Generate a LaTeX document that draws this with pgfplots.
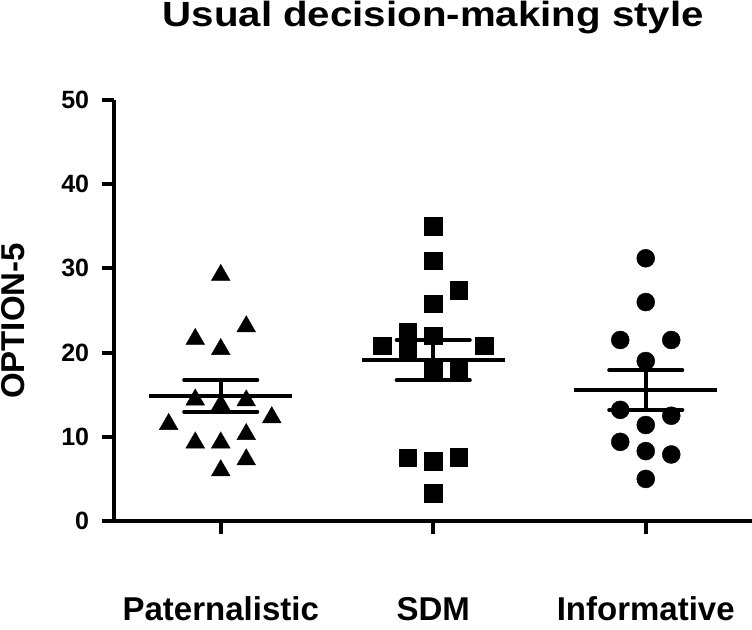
\documentclass[border=0pt]{standalone}
\usepackage{pgfplots}
\pgfplotsset{compat=1.18}
\usepackage{fontspec}
\setmainfont{Liberation Sans}
\usepackage{graphicx}
\begin{document}
\begin{tikzpicture}
\begin{axis}[
  scale only axis, width=637.5pt, height=421pt,
  xmin=-0.5, xmax=2.5, ymin=0, ymax=50,
  axis x line=bottom, axis y line=left,
  axis line style={-, line width=4pt, black},
  xtick={0,1,2}, xticklabels={,,},
  ytick={0,10,20,30,40,50},
  tick align=outside, major tick length=12.8pt,
  tick style={line width=4pt, black},
  /pgf/number format/assume math mode=true,
  yticklabel style={font={\fontsize{25pt}{25pt}\selectfont\bfseries}, anchor=east, inner sep=0pt, xshift=-12.4pt},
  clip=false,
]
% Paternalistic
\addplot[only marks, mark=triangle*, mark size=10.8pt, black] coordinates {
(0,29.2)(0.12,23.1)(-0.12,21.6)(0,20.4)(-0.12,14.4)(0.12,14.3)(0,13.8)(0.24,12.3)(-0.245,11.5)(-0.12,9.3)(0,9.3)(0.12,10.3)(0.12,7.3)(0,6.0)};
% SDM
\addplot[only marks, mark=square*, mark size=8.7pt, black] coordinates {
(1,35.0)(1,30.9)(1.12,27.4)(1,25.8)(0.88,22.5)(1,22.0)(0.76,20.8)(1.24,20.8)(0.88,20.4)(1,17.9)(1.12,18.1)(0.88,7.5)(1,7.1)(1.12,7.6)(1,3.3)};
% Informative
\addplot[only marks, mark=*, mark size=9pt, black] coordinates {
(2,31.2)(2,26.0)(1.88,21.5)(2.12,21.5)(2,19.0)(1.88,13.2)(2.12,12.5)(2,11.4)(1.88,9.4)(2,8.3)(2.12,7.9)(2,5.0)};
% means
\addplot[line width=4.5pt, black] coordinates {(-0.337,14.85)(0.337,14.85)};
\addplot[line width=4.5pt, black] coordinates {(0.663,19.13)(1.337,19.13)};
\addplot[line width=4.5pt, black] coordinates {(1.663,15.55)(2.337,15.55)};
% SEM
\addplot[line width=4pt, black, line cap=round] coordinates {(-0.172,16.75)(0.172,16.75)};
\addplot[line width=4pt, black, line cap=round] coordinates {(-0.172,12.98)(0.172,12.98)};
\addplot[line width=4pt, black] coordinates {(0,12.98)(0,16.75)};
\addplot[line width=4pt, black, line cap=round] coordinates {(0.828,21.5)(1.172,21.5)};
\addplot[line width=4pt, black, line cap=round] coordinates {(0.828,16.7)(1.172,16.7)};
\addplot[line width=4pt, black] coordinates {(1,16.7)(1,21.5)};
\addplot[line width=4pt, black, line cap=round] coordinates {(1.828,17.9)(2.172,17.9)};
\addplot[line width=4pt, black, line cap=round] coordinates {(1.828,13.2)(2.172,13.2)};
\addplot[line width=4pt, black] coordinates {(2,13.2)(2,17.9)};
% labels
\node[anchor=base, inner sep=0pt, yshift=-99pt, font={\fontsize{33pt}{33pt}\selectfont\bfseries}] at (axis cs:0,0) {Paternalistic};
\node[anchor=base, inner sep=0pt, yshift=-99pt, font={\fontsize{33pt}{33pt}\selectfont\bfseries}] at (axis cs:1,0) {SDM};
\node[anchor=base, inner sep=0pt, yshift=-99pt, font={\fontsize{33pt}{33pt}\selectfont\bfseries}] at (axis cs:2,0) {Informative};
\node[rotate=90, anchor=center, inner sep=0pt, font={\fontsize{33pt}{33pt}\selectfont\bfseries}] at (rel axis cs:-0.1586,0.475) {OPTION-5};
\node[anchor=base, inner sep=0pt, font={\fontsize{35pt}{35pt}\selectfont\bfseries}] at (rel axis cs:0.5,1.1734) {\scalebox{1.15}[1]{Usual decision-making style}};
\end{axis}
\pgfresetboundingbox
\path (current axis.south west) ++(-114.5pt,-108pt) rectangle ++(752pt,629pt);
\end{tikzpicture}
\end{document}
